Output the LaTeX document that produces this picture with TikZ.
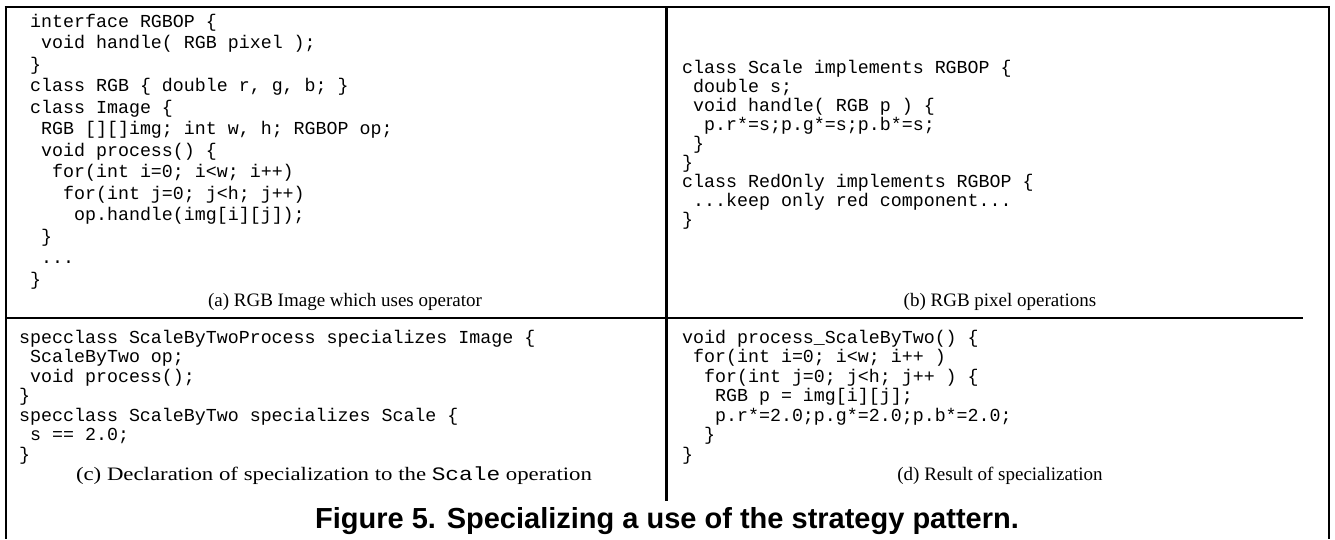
\documentclass[tikz,border=0pt]{standalone}
\usepackage{fontspec}
\setmainfont{Liberation Serif}
\newfontfamily\codefont{Liberation Mono}
\newfontfamily\headfont{Liberation Sans}
\newfontfamily\widecapfont[FakeStretch=1.2]{Liberation Serif}
\newfontfamily\widecodefont[FakeStretch=1.2]{Liberation Mono}
\begin{document}
\begin{tikzpicture}[x=1pt,y=-1pt,
  rule/.style={line width=2.8pt},
  code/.style={anchor=base west,inner sep=0pt,
    font=\codefont\fontsize{18.3}{#1}\selectfont},
  code/.default=19.5,
  subcap/.style={anchor=base,inner sep=0pt,
    font=\fontsize{19}{22}\selectfont},
  figcap/.style={anchor=base,inner sep=0pt,
    font=\headfont\bfseries\fontsize{29}{32}\selectfont}]
\useasboundingbox (0,0) rectangle (1335,539);

% frame and panel rules
\draw[rule] (4.6,7) -- (1330.4,7);
\draw[rule] (6,7) -- (6,539);
\draw[rule] (1329,7) -- (1329,539);
\draw[rule] (666.7,7) -- (666.7,501);
\draw[rule] (6,318) -- (1303,318);

% (a) image class
\node[code=21.5] (codeA) at (30,27) {\begin{tabular}[t]{@{}l@{}}
interface RGBOP \{\\
~void handle( RGB pixel );\\
\}\\
class RGB \{ double r, g, b; \}\\
class Image \{\\
~RGB [][]img; int w, h; RGBOP op;\\
~void process() \{\\
~~for(int i=0; i<w; i++)\\
~~~for(int j=0; j<h; j++)\\
~~~~op.handle(img[i][j]);\\
~\}\\
~...\\
\}
\end{tabular}};
\node[subcap] (capA) at (345,306) {(a) RGB Image which uses operator};

% (b) pixel operations
\node[code=19] (codeB) at (682,73) {\begin{tabular}[t]{@{}l@{}}
class Scale implements RGBOP \{\\
~double s;\\
~void handle( RGB p ) \{\\
~~p.r*=s;p.g*=s;p.b*=s;\\
~\}\\
\}\\
class RedOnly implements RGBOP \{\\
~...keep only red component...\\
\}
\end{tabular}};
\node[subcap] (capB) at (1000,306) {(b) RGB pixel operations};

% (c) specialization declaration
\node[code] (codeC) at (19,343) {\begin{tabular}[t]{@{}l@{}}
specclass ScaleByTwoProcess specializes Image \{\\
~ScaleByTwo op;\\
~void process();\\
\}\\
specclass ScaleByTwo specializes Scale \{\\
~s == 2.0;\\
\}
\end{tabular}};
\node[subcap,font=\widecapfont\fontsize{19}{22}\selectfont] (capC) at (334,480)
  {(c) Declaration of specialization to the {\widecodefont Scale} operation};

% (d) specialized result
\node[code] (codeD) at (682,343) {\begin{tabular}[t]{@{}l@{}}
void process\_ScaleByTwo() \{\\
~for(int i=0; i<w; i++ )\\
~~for(int j=0; j<h; j++ ) \{\\
~~~RGB p = img[i][j];\\
~~~p.r*=2.0;p.g*=2.0;p.b*=2.0;\\
~~\}\\
\}
\end{tabular}};
\node[subcap] (capD) at (1000,480) {(d) Result of specialization};

% figure caption
\node[figcap] (title) at (667,528) {Figure 5. Specializing a use of the strategy pattern.};
\end{tikzpicture}
\end{document}
